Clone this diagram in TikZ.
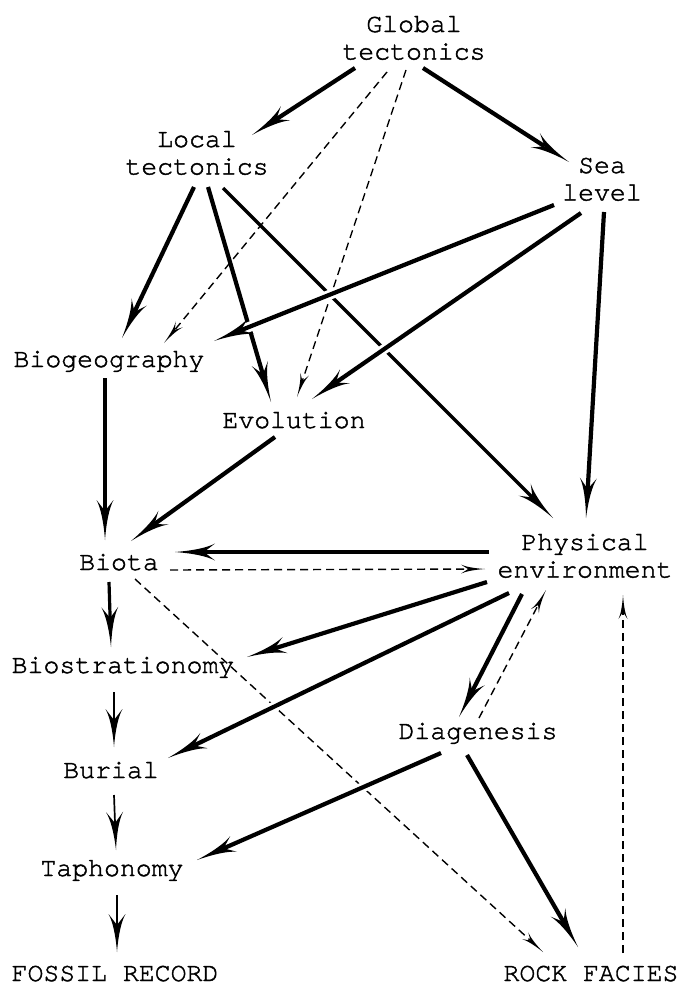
\documentclass[tikz,border=0pt]{standalone}
\usepackage{fontspec}
\newfontfamily\courfont[FakeBold=1.6]{texgyrecursor-regular.otf}
\usetikzlibrary{arrows.meta,calc}
\newdimen\harpdim
\pgfdeclarearrow{
  name = Harp,
  parameters = {\the\pgfarrowlength,\the\pgfarrowwidth,\the\pgfarrowinset},
  setup code = {
    \pgfarrowssettipend{0pt}
    \harpdim=\pgfarrowinset
    \advance\harpdim by -\pgfarrowlength
    \pgfarrowssetlineend{\harpdim}
    \pgfarrowssetbackend{-\pgfarrowlength}
    \pgfarrowssetvisualbackend{\harpdim}
    \pgfarrowshullpoint{0pt}{0pt}
    \pgfarrowsupperhullpoint{-\pgfarrowlength}{.5\pgfarrowwidth}
    \pgfarrowshullpoint{\harpdim}{0pt}
    \pgfarrowssavethe\pgfarrowlength
    \pgfarrowssavethe\pgfarrowwidth
    \pgfarrowssavethe\pgfarrowinset
  },
  drawing code = {
    \pgfpathmoveto{\pgfqpoint{0pt}{0pt}}
    \pgfpathcurveto{\pgfpoint{-.45\pgfarrowlength}{.08\pgfarrowwidth}}{\pgfpoint{-.8\pgfarrowlength}{.25\pgfarrowwidth}}{\pgfpoint{-\pgfarrowlength}{.5\pgfarrowwidth}}
    \pgfpathlineto{\pgfpoint{\pgfarrowinset-\pgfarrowlength}{0pt}}
    \pgfpathlineto{\pgfpoint{-\pgfarrowlength}{-.5\pgfarrowwidth}}
    \pgfpathcurveto{\pgfpoint{-.8\pgfarrowlength}{-.25\pgfarrowwidth}}{\pgfpoint{-.45\pgfarrowlength}{-.08\pgfarrowwidth}}{\pgfqpoint{0pt}{0pt}}
    \pgfpathclose
    \pgfusepathqfill
  },
  defaults = {length = 40pt, width = 17pt, inset = 11pt}
}
\tikzset{
  lbl/.style={anchor=base, inner sep=0pt, font=\courfont\fontsize{26.5}{27.5}\selectfont},
  thk/.style={line width=4.2pt, -{Harp[length=40pt,width=17pt,inset=11pt]}},
  med/.style={line width=3.2pt, -{Harp[length=40pt,width=17pt,inset=11pt]}},
  thn/.style={line width=1.7pt, -{Harp[length=38pt,width=17pt,inset=11pt]}},
  dsh/.style={line width=1.4pt, dash pattern=on 8pt off 5pt, -{Harp[length=24pt,width=9pt,inset=7pt]}},
  halo/.style={draw=white, line width=10pt, shorten <=20pt, shorten >=25pt}
}
\newcommand{\twoline}[2]{\begin{tabular}[t]{@{}c@{}}#1\\#2\end{tabular}}
\begin{document}
\begin{tikzpicture}[x=1pt,y=-1pt]
\fill[white] (0,0) rectangle (682,985);
\useasboundingbox (0,0) rectangle (682,985);
% nodes
\node[lbl] (gt) at (414,32) {\twoline{Global}{tectonics}};
\node[lbl] (lt) at (197,147) {\twoline{Local}{tectonics}};
\node[lbl] (sl) at (602,173) {\twoline{Sea}{level}};
\node[lbl] (bg) at (109,367) {Biogeography};
\node[lbl] (ev) at (294,428) {Evolution};
\node[lbl] (bi) at (119,570) {Biota};
\node[lbl] (pe) at (585,550) {\twoline{Physical}{environment}};
\node[lbl] (bs) at (123,673) {Biostrationomy};
\node[lbl] (dg) at (478,739) {Diagenesis};
\node[lbl] (bu) at (111,778) {Burial};
\node[lbl] (ta) at (112,876) {Taphonomy};
\node[lbl] (fr) at (115,981) {FOSSIL RECORD};
\node[lbl] (rf) at (591,981) {ROCK FACIES};
% connectors
\draw[thk] ($(gt.base)+(-59,36)$) -- ($(lt.base)+(55,-12)$);
\draw[thk] ($(gt.base)+(9,36)$) -- ($(sl.base)+(-33,-11)$);
\draw[dsh] ($(gt.base)+(-27,40)$) -- ($(bg.base)+(55,-24)$);
\draw[dsh] ($(gt.base)+(-8,38)$) -- ($(ev.base)+(3,-31)$);
\draw[thk] ($(lt.base)+(-3,40)$) -- ($(bg.base)+(13,-29)$);
\draw[thk] ($(lt.base)+(11,40)$) -- ($(ev.base)+(-23,-26)$);
\draw[med] ($(lt.base)+(26,41)$) -- ($(pe.base)+(-32,-32)$);
\draw[halo] ($(sl.base)+(-48,32)$) -- ($(bg.base)+(105,-26)$);
\draw[thk] ($(sl.base)+(-48,32)$) -- ($(bg.base)+(105,-26)$);
\draw[halo] ($(sl.base)+(-21,40)$) -- ($(ev.base)+(18,-29)$);
\draw[thk] ($(sl.base)+(-21,40)$) -- ($(ev.base)+(18,-29)$);
\draw[thk] ($(sl.base)+(2,39)$) -- ($(pe.base)+(1,-32)$);
\draw[med] ($(bg.base)+(-4,11)$) -- ($(bi.base)+(-14,-30)$);
\draw[thk] ($(ev.base)+(-19,9)$) -- ($(bi.base)+(12,-29)$);
\draw[thk] ($(pe.base)+(-96,2)$) -- ($(bi.base)+(56,-18)$);
\draw[dsh] ($(bi.base)+(51,0)$) -- ($(pe.base)+(-100,19)$);
\draw[dsh] ($(bi.base)+(16,9)$) -- ($(rf.base)+(-48,-29)$);
\draw[thk] ($(pe.base)+(-98,32)$) -- ($(bs.base)+(124,-16)$);
\draw[halo] ($(pe.base)+(-76,43)$) -- ($(bu.base)+(57,-20)$);
\draw[thk] ($(pe.base)+(-76,43)$) -- ($(bu.base)+(57,-20)$);
\draw[thk] ($(pe.base)+(-63,44)$) -- ($(dg.base)+(-19,-22)$);
\draw[dsh] ($(dg.base)+(1,-21)$) -- ($(pe.base)+(-39,40)$);
\draw[dsh] ($(rf.base)+(32,-28)$) -- ($(pe.base)+(38,45)$);
\draw[med] ($(bi.base)+(-10,12)$) -- ($(bs.base)+(-12,-26)$);
\draw[thn] ($(bs.base)+(-9,19)$) -- ($(bu.base)+(3,-31)$);
\draw[halo] ($(dg.base)+(-37,14)$) -- ($(ta.base)+(85,-16)$);
\draw[thk] ($(dg.base)+(-37,14)$) -- ($(ta.base)+(85,-16)$);
\draw[thk] ($(dg.base)+(-11,16)$) -- ($(rf.base)+(-13,-34)$);
\draw[thn] ($(bu.base)+(3,17)$) -- ($(ta.base)+(4,-26)$);
\draw[thn] ($(ta.base)+(5,19)$) -- ($(fr.base)+(2,-29)$);
\end{tikzpicture}
\end{document}
